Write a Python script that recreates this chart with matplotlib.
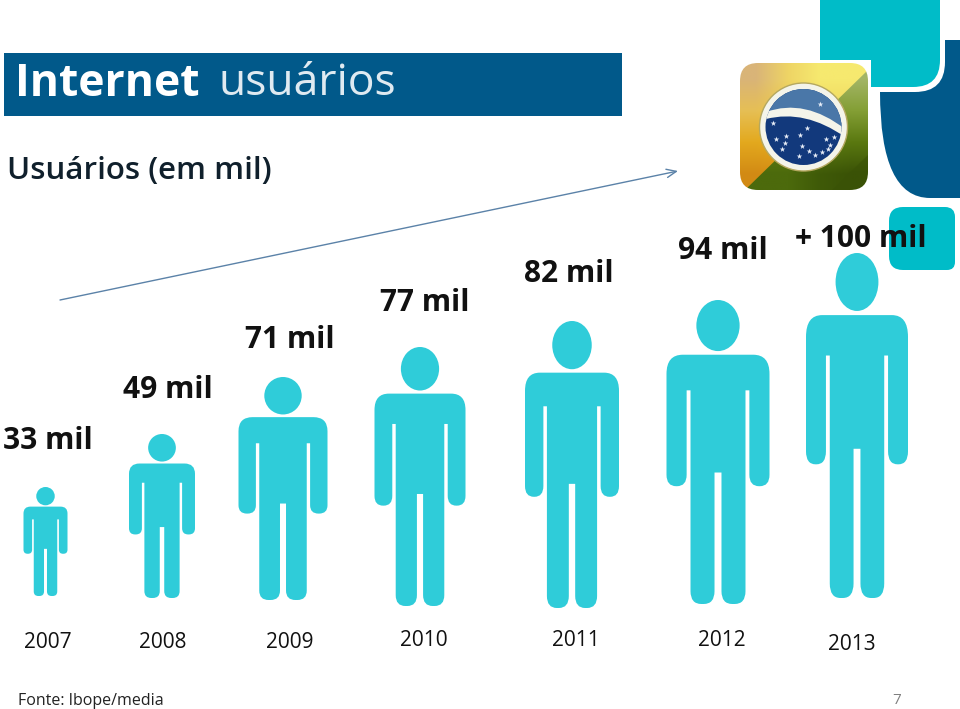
"""Internet users pictogram slide."""
import matplotlib
matplotlib.use("Agg")
import matplotlib.pyplot as plt
import numpy as np
from matplotlib.colors import to_rgb
from matplotlib.patches import Circle, Ellipse, FancyBboxPatch, PathPatch, Polygon, Rectangle
from matplotlib.path import Path
from matplotlib.transforms import Affine2D

plt.rcParams["font.family"] = ["Open Sans", "DejaVu Sans"]

YEARS = ["2007", "2008", "2009", "2010", "2011", "2012", "2013"]
USER_LABELS = ["33 mil", "49 mil", "71 mil", "77 mil", "82 mil", "94 mil", "+ 100 mil"]

# pictogram extents, in pixels
PERSON_X = [45.5, 162, 283, 420, 572, 718, 857]
PERSON_WIDTH = [44, 66, 89, 91, 94, 103, 102]
PERSON_TOP = [487, 434, 377, 347, 321, 300, 253]
PERSON_BOTTOM = [596, 598, 600, 606, 608, 604, 598]

LABEL_XY = [(47.5, 441), (167.5, 390), (290, 340), (424.5, 303), (569, 274), (723, 251), (860.5, 239)]
YEAR_XY = [(48, 642), (163, 642), (290, 642), (424, 640), (576, 640), (722, 640), (852, 645)]

CYAN = "#2fccd9"
TEAL = "#00bcc8"
NAVY = "#01598a"

FLAG_WARM = [
    ["#d9b478", "#eed465", "#f6e96f", "#f6e96f"],
    ["#e6bf55", "#ecc94a", "#f0d860", "#f0d860"],
    ["#e3a91e", "#e5ab1e", "#e5ab1e", "#e5ab1e"],
    ["#d28a14", "#d98f14", "#d98f14", "#d98f14"],
]
FLAG_GREEN = [
    ["#b4c270", "#b4c270", "#a8b96a", "#a3b566"],
    ["#7f9a2c", "#7f9a2c", "#7f9a2c", "#849f35"],
    ["#5f7d12", "#5f7d12", "#5f7d12", "#5a7810"],
    ["#4c6a0c", "#4c6a0c", "#3f5a08", "#3a5206"],
]


def rounded(points, radius):
    """Closed path through points with rounded corners; None means a sharp corner."""
    verts, codes = [], []
    n = len(points)
    for i, p in enumerate(points):
        p = np.array(p, dtype=float)
        r = radius[i]
        prev = np.array(points[i - 1], dtype=float)
        nxt = np.array(points[(i + 1) % n], dtype=float)
        if r is None:
            verts.append(p)
            codes.append(Path.LINETO if i else Path.MOVETO)
            continue
        a = p + (prev - p) / np.linalg.norm(prev - p) * r
        b = p + (nxt - p) / np.linalg.norm(nxt - p) * r
        verts += [a, p, b]
        codes += [Path.LINETO if i else Path.MOVETO, Path.CURVE3, Path.CURVE3]
    verts.append(verts[0])
    codes.append(Path.CLOSEPOLY)
    return Path(verts, codes)


def person_body():
    pts = [
        (-133, 0), (133, 0), (133, 288), (81, 288), (81, 78),
        (71, 78), (71, 546), (9, 546), (9, 258), (-9, 258),
        (-9, 546), (-71, 546), (-71, 78), (-81, 78), (-81, 288), (-133, 288),
    ]
    r = [42, 42, 25, 25, None, None, 28, 28, None, None, 28, 28, None, None, 25, 25]
    return rounded(pts, r)


def rgb_grid(rows):
    return np.array([[to_rgb(c) for c in row] for row in rows])


fig = plt.figure(figsize=(9.6, 7.09), dpi=100)
ax = fig.add_axes([0, 0, 1, 1])

# corner decoration
ax.add_patch(PathPatch(
    rounded([(820, -20), (940, -20), (940, 87), (820, 87)], [None, None, 27, None]), fc=TEAL, ec="none", zorder=1))
navy_path = Path(
    [(945, 40), (945, 62), (945, 92), (915, 92), (880, 92), (880, 198), (930, 198), (980, 198), (980, 40), (945, 40)],
    [Path.MOVETO, Path.LINETO, Path.CURVE3, Path.CURVE3, Path.LINETO, Path.CURVE3, Path.CURVE3,
     Path.LINETO, Path.LINETO, Path.CLOSEPOLY],
)
ax.add_patch(PathPatch(navy_path, fc=NAVY, ec="none", zorder=1))
ax.add_patch(PathPatch(
    rounded([(889, 207), (955, 207), (955, 270), (889, 270)], [14, 10, 8, 14]), fc=TEAL, ec="none", zorder=1))

# title bar
ax.add_patch(Rectangle((4, 53), 618, 63, fc=NAVY, ec="none", zorder=2))
ax.text(15, 84, "Internet", color="white", fontsize=32, fontweight="bold", va="center", zorder=3)
ax.text(218, 84, "usuários", color="#dfeaf1", fontsize=32, va="center", zorder=3)
ax.text(7, 171, "Usuários (em mil)", color="#10202c", fontsize=22.5, fontweight="semibold", va="center", zorder=3)

# trend arrow
ax.annotate("", xy=(678, 171), xytext=(60, 300),
            arrowprops=dict(arrowstyle="->,head_length=0.7,head_width=0.3", color="#5b82a8", lw=1.0,
                            shrinkA=0, shrinkB=0), zorder=3)

# flag icon
flag_extent = (740, 868, 190, 63)
ax.imshow(rgb_grid(FLAG_WARM), extent=flag_extent, aspect="auto", interpolation="bilinear", zorder=5)
green = ax.imshow(rgb_grid(FLAG_GREEN), extent=flag_extent, aspect="auto", interpolation="bilinear", zorder=5.5)
green_clip = Polygon([(868, 70), (868, 190), (745, 190)], fc="none", ec="none")
ax.add_patch(green_clip)
green.set_clip_path(green_clip)
ax.add_patch(Polygon([(832, 190), (868, 155), (868, 190)], fc="#3a5206", ec="none", alpha=0.6, zorder=5.6))
# white frame rounds the icon corners off
frame = Path.make_compound_path(
    Path([(737, 60), (871, 60), (871, 193), (737, 193), (737, 60)],
         [Path.MOVETO, Path.LINETO, Path.LINETO, Path.LINETO, Path.CLOSEPOLY]),
    rounded([(740, 63), (740, 190), (868, 190), (868, 63)], [18, 18, 18, 18]),
)
ax.add_patch(PathPatch(frame, fc="white", ec="none", zorder=5.7))
ax.add_patch(Circle((803.5, 127), 44, fc="#f4f4ea", ec="#b5a860", lw=1, zorder=6))
disc = Circle((803.5, 127), 38, fc="#12397c", ec="none", zorder=7)
ax.add_patch(disc)
upper = Polygon([(765, 89), (842, 89), (844, 130), (825, 120), (800, 113), (770, 114)], fc="#4a77a8", ec="none", zorder=8)
ax.add_patch(upper)
upper.set_clip_path(disc)
band = PathPatch(Path([(766, 112), (805, 98), (845, 129), (845, 137), (805, 109), (766, 119), (766, 112)],
                      [Path.MOVETO, Path.CURVE3, Path.CURVE3, Path.LINETO, Path.CURVE3, Path.CURVE3, Path.CLOSEPOLY]),
                 fc="#f4f4ea", ec="none", zorder=9)
ax.add_patch(band)
band.set_clip_path(disc)
star_x = [820, 773, 807, 786, 776, 800, 802, 826, 834, 830, 799, 809, 815, 822, 828, 782, 785]
star_y = [104, 123, 128, 136, 139, 135, 146, 139, 137, 145, 156, 151, 155, 152, 149, 149, 143]
ax.scatter(star_x, star_y, marker="*", s=18, c="#e8eef8", linewidths=0, zorder=10)

# people
body = person_body()
for x, w, top, bottom in zip(PERSON_X, PERSON_WIDTH, PERSON_TOP, PERSON_BOTTOM):
    h = bottom - top
    shoulder = top + 0.18 * h
    tr = Affine2D().scale(w / 266, (bottom - shoulder) / 546).translate(x, shoulder) + ax.transData
    ax.add_patch(PathPatch(body, fc=CYAN, ec="none", transform=tr, zorder=4))
    ax.add_patch(Ellipse((x, top + 0.084 * h), 0.42 * w, 0.168 * h, fc=CYAN, ec="none", zorder=4))

for (x, y), lab in zip(LABEL_XY, USER_LABELS):
    ax.text(x, y, lab, color="#111111", fontsize=21.5, fontweight="bold", ha="center", va="center", zorder=6)

for (x, y), yr in zip(YEAR_XY, YEARS):
    ax.text(x, y, yr, color="#111111", fontsize=15, ha="center", va="center", zorder=6)

ax.text(18, 701, "Fonte: Ibope/media", color="#222222", fontsize=11.5, va="center", zorder=6)
ax.text(897, 700, "7", color="#808080", fontsize=11, ha="center", va="center", zorder=6)

# imshow resets the limits, so set them last
ax.set_xlim(0, 960)
ax.set_ylim(709, 0)
ax.axis("off")

fig.savefig("out.png", dpi=100)
